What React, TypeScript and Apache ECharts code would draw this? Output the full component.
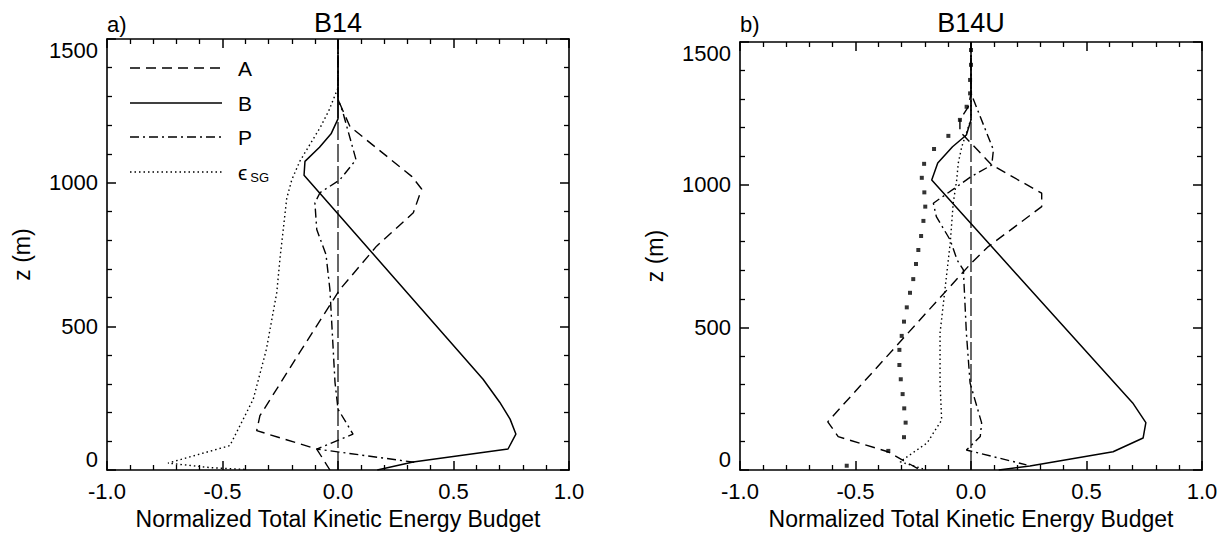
import React, { useEffect, useRef } from "react";
import * as echarts from "echarts";

// ---- data: [x (normalized budget), z (m)] ----
const b14A: [number, number][] = [
  [0, 1500], [0, 1290], [0.02, 1253], [0.052, 1195], [0.319, 1022], [0.362, 978],
  [0.326, 895], [0.167, 779], [0.008, 628], [-0.165, 410], [-0.338, 189],
  [-0.352, 137], [-0.092, 73], [-0.035, 0],
];
const b14B: [number, number][] = [
  [0, 1500], [0, 1222], [-0.03, 1170], [-0.08, 1123], [-0.143, 1074], [-0.147, 1026],
  [0.628, 316], [0.7, 236], [0.745, 177], [0.77, 125], [0.736, 73], [0.325, 28], [0.17, 0],
];
const b14P: [number, number][] = [
  [0, 1500], [0, 1290], [0.02, 1248], [0.078, 1080], [0.008, 1010], [-0.078, 965],
  [-0.1, 930], [-0.092, 837], [-0.052, 750], [-0.035, 628], [-0.013, 305], [0, 212],
  [0.065, 125], [-0.092, 73], [0.33, 27],
];
const b14Eps: [number, number][] = [
  [0, 1500], [0, 1330], [-0.04, 1250], [-0.075, 1195], [-0.12, 1135], [-0.165, 1075],
  [-0.2, 1010], [-0.222, 945], [-0.237, 837], [-0.25, 745], [-0.265, 618], [-0.31, 420],
  [-0.367, 246], [-0.468, 85], [-0.736, 24], [-0.55, 8], [-0.4, 2],
];

const b14uA: [number, number][] = [
  [0, 1500], [0, 1320], [-0.012, 1273], [-0.048, 1227], [-0.048, 1186], [0.09, 1069],
  [0.306, 970], [0.306, 923], [0.075, 783], [0, 724], [-0.62, 169], [-0.575, 117],
  [-0.36, 64], [-0.22, 0],
];
const b14uB: [number, number][] = [
  [0, 1500], [0, 1227], [-0.02, 1174], [-0.08, 1133], [-0.144, 1076], [-0.17, 1016],
  [0.7, 235], [0.757, 166], [0.745, 112], [0.615, 64], [0.255, 14], [0.12, 0],
];
const b14uP: [number, number][] = [
  [0, 1500], [0, 1320], [0.097, 1122], [0.09, 1069], [0, 1028], [-0.163, 935],
  [-0.15, 888], [-0.09, 806], [-0.06, 736], [-0.033, 701], [-0.02, 480], [-0.004, 305],
  [0.046, 165], [0.04, 117], [-0.02, 70], [0.24, 18],
];
const b14uEps: [number, number][] = [
  [0, 1500], [0, 1230], [-0.02, 1181], [-0.04, 1133], [-0.055, 1076], [-0.062, 1016],
  [-0.077, 935], [-0.09, 795], [-0.113, 631], [-0.134, 480], [-0.134, 305],
  [-0.127, 175], [-0.19, 95], [-0.307, 29], [-0.2, 2],
];
const b14uMarks: [number, number][] = [
  [0, 1472], [0, 1420], [-0.004, 1367], [-0.004, 1320], [-0.019, 1273], [-0.048, 1227],
  [-0.098, 1171], [-0.16, 1125], [-0.203, 1073], [-0.213, 1024], [-0.202, 973],
  [-0.198, 923], [-0.206, 873], [-0.216, 820], [-0.228, 771], [-0.238, 722],
  [-0.25, 669], [-0.264, 621], [-0.278, 570], [-0.29, 520], [-0.3, 470], [-0.31, 421],
  [-0.31, 368], [-0.304, 318], [-0.296, 266], [-0.289, 216], [-0.283, 166],
  [-0.29, 115], [-0.358, 67], [-0.538, 15],
];
const zeroLine: [number, number][] = [[0, 0], [0, 1500]];

const panelTitles = ["B14", "B14U"];
const panelTags = ["a)", "b)"];
const legendNames = ["A", "B", "P"];
const xTicks = [-1, -0.5, 0, 0.5, 1];
const yTicks = [0, 500, 1000, 1500];
const xName = "Normalized Total Kinetic Energy Budget";
const yName = "z (m)";

const FONT = "'Liberation Sans', Arial, Helvetica, sans-serif";
const DASH_A = [10, 6];
const DASH_P = [9, 4, 2, 4];
const DOT = [1.5, 3];
const LABEL_SIZE = 22;
const NAME_SIZE = 23;

export default function App() {
  const ref = useRef<HTMLDivElement>(null);
  useEffect(() => {
    if (!ref.current) return;
    const chart = echarts.init(ref.current, undefined, { renderer: "svg" });

    const grids = [
      { left: 107, top: 39, width: 462, height: 432 },
      { left: 740, top: 42, width: 462, height: 428 },
    ];

    const tickStyle = { color: "#000", width: 1.5 };
    const minorStyle = { color: "#000", width: 1.3 };
    const mkX = (gi: number, pos: "bottom" | "top") => ({
      type: "value",
      gridIndex: gi,
      position: pos,
      min: xTicks[0],
      max: xTicks[xTicks.length - 1],
      interval: 0.5,
      name: pos === "bottom" ? xName : "",
      nameLocation: "middle",
      nameGap: 37,
      nameTextStyle: { color: "#000", fontSize: NAME_SIZE, fontFamily: FONT },
      axisLine: { show: true, onZero: false, lineStyle: { color: "#000", width: 1.6 } },
      axisTick: { show: true, inside: true, length: 9, lineStyle: tickStyle },
      minorTick: { show: true, splitNumber: 5, length: 5, lineStyle: minorStyle },
      splitLine: { show: false },
      minorSplitLine: { show: false },
      axisLabel: {
        show: pos === "bottom",
        color: "#000",
        fontSize: LABEL_SIZE,
        fontFamily: FONT,
        margin: 10,
        formatter: (v: number) => v.toFixed(1),
      },
    });
    const mkY = (gi: number, pos: "left" | "right") => ({
      type: "value",
      gridIndex: gi,
      position: pos,
      min: yTicks[0],
      max: yTicks[yTicks.length - 1],
      interval: 500,
      name: pos === "left" ? yName : "",
      nameLocation: "middle",
      nameRotate: 90,
      nameGap: 74,
      nameTextStyle: { color: "#000", fontSize: NAME_SIZE, fontFamily: FONT },
      axisLine: { show: true, onZero: false, lineStyle: { color: "#000", width: 1.6 } },
      axisTick: { show: true, inside: true, length: 9, lineStyle: tickStyle },
      minorTick: { show: true, splitNumber: 5, length: 5, lineStyle: minorStyle },
      splitLine: { show: false },
      minorSplitLine: { show: false },
      axisLabel: {
        show: pos === "left",
        color: "#000",
        fontSize: LABEL_SIZE,
        fontFamily: FONT,
        margin: 9,
        verticalAlignMinLabel: "bottom",
        verticalAlignMaxLabel: "top",
        formatter: (v: number) => String(v),
      },
    });

    const curve = (name: string, data: [number, number][], ai: number, dash: any, width = 1.4, color = "#000") => ({
      type: "line",
      name,
      data,
      xAxisIndex: ai,
      yAxisIndex: ai,
      showSymbol: false,
      symbol: "none",
      silent: true,
      lineStyle: { color, width, type: dash },
    });

    const series: any[] = [
      curve("zero", zeroLine, 0, [18, 4], 1.2),
      curve("A", b14A, 0, DASH_A),
      curve("B", b14B, 0, "solid", 1.5),
      curve("P", b14P, 0, DASH_P),
      curve("εSG", b14Eps, 0, DOT),
      curve("zero", zeroLine, 2, [18, 4], 1.2),
      curve("A", b14uA, 2, DASH_A),
      curve("B", b14uB, 2, "solid", 1.5),
      curve("P", b14uP, 2, DASH_P),
      curve("εSG", b14uEps, 2, DOT),
      {
        type: "scatter",
        name: "marks",
        data: b14uMarks,
        xAxisIndex: 2,
        yAxisIndex: 2,
        symbol: "rect",
        symbolSize: 4,
        silent: true,
        itemStyle: { color: "#000" },
      },
    ];

    const textStyle = (text: string, size: number, align: string) => ({
      text,
      fill: "#000",
      fontSize: size,
      fontFamily: FONT,
      align,
      verticalAlign: "middle",
    });

    const legendRows = [68, 103, 137, 172];
    const legendDash = [DASH_A, "solid", DASH_P, DOT];
    const graphic: any[] = [];
    grids.forEach((g, i) => {
      graphic.push({ type: "text", x: g.left, y: 24, style: textStyle(panelTags[i], 22, "left") });
      graphic.push({ type: "text", x: g.left + g.width / 2, y: 23, style: textStyle(panelTitles[i], 27, "center") });
    });
    legendRows.forEach((y, i) => {
      graphic.push({
        type: "line",
        shape: { x1: 130, y1: y, x2: 222, y2: y },
        style: { stroke: "#000", lineWidth: i === 1 ? 1.5 : 1.4, lineDash: legendDash[i] === "solid" ? null : legendDash[i] },
      });
      if (i < 3) {
        graphic.push({ type: "text", x: 238, y, style: textStyle(legendNames[i], 21, "left") });
      } else {
        graphic.push({
          type: "text",
          x: 238,
          y,
          style: {
            text: "{e|ϵ}{s|SG}",
            fill: "#000",
            align: "left",
            verticalAlign: "middle",
            rich: {
              e: { fontSize: 21, fontFamily: FONT, fill: "#000" },
              s: { fontSize: 13, fontFamily: FONT, fill: "#000", padding: [10, 0, 0, 3] },
            },
          },
        });
      }
    });

    chart.setOption({
      animation: false,
      backgroundColor: "#fff",
      grid: grids,
      xAxis: [mkX(0, "bottom"), mkX(0, "top"), mkX(1, "bottom"), mkX(1, "top")],
      yAxis: [mkY(0, "left"), mkY(0, "right"), mkY(1, "left"), mkY(1, "right")],
      series,
      graphic,
    });
    return () => chart.dispose();
  }, []);
  return (
    <div
      ref={ref}
      style={{ position: "absolute", left: 0, top: 0, width: 1231, height: 535 }}
    />
  );
}
